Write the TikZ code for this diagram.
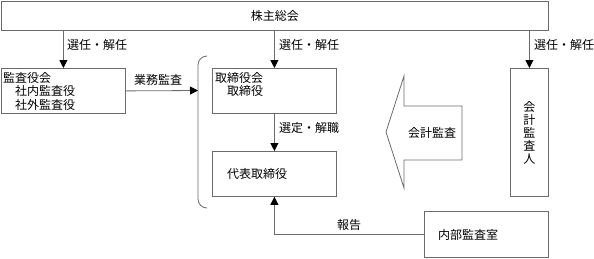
\documentclass[tikz,border=0pt]{standalone}
\usepackage{fontspec}
\setmainfont{Noto Sans CJK JP}
\usetikzlibrary{arrows.meta}
\definecolor{linegray}{gray}{0.42}
\tikzset{
  box/.style={draw=linegray, line width=0.8pt, rectangle, inner sep=0pt, anchor=north west},
  txt/.style={inner sep=0pt, anchor=west, font=\fontsize{12pt}{13pt}\selectfont},
  conn/.style={draw=linegray, line width=0.8pt, -{Triangle[width=8pt,length=8pt,color=black]}},
  plain/.style={draw=linegray, line width=0.8pt}
}
\begin{document}
\begin{tikzpicture}[x=1pt,y=-1pt]
\useasboundingbox (0,0) rectangle (594,258);
% boxes
\node[box, minimum width=547pt, minimum height=29pt, font=\fontsize{12pt}{13pt}\selectfont] (top) at (1,1) {株主総会};
\node[box, minimum width=124pt, minimum height=45pt] (kansa) at (1,68) {};
\node[box, minimum width=124pt, minimum height=45pt] (tori) at (212,68) {};
\node[box, minimum width=124pt, minimum height=45pt] (daihyo) at (212,151) {};
\node[box, minimum width=124pt, minimum height=46pt] (naibu) at (424,211) {};
\node[box, minimum width=38pt, minimum height=128pt] (kaikei) at (510,68) {};
% texts
\node[txt] (t1) at (3,78) {監査役会};
\node[txt] (t2) at (15,91) {社内監査役};
\node[txt] (t3) at (15,105) {社外監査役};
\node[txt] (t4) at (215,78) {取締役会};
\node[txt] (t5) at (227,91) {取締役};
\node[txt] (t6) at (227,174) {代表取締役};
\node[txt] (t7) at (438,235) {内部監査室};
\node[inner sep=0pt, align=center, font=\fontsize{12pt}{13pt}\selectfont] (t8) at (kaikei.center) {会\\計\\監\\査\\人};
% bracket
\draw[plain, rounded corners=9pt] (207,56) -- (198,56) -- (198,208) -- (207,208);
\coordinate (br) at (198,90.5);
% arrows
\draw[conn] (top.south -| kansa.north) -- (kansa.north);
\draw[conn] (top.south -| tori.north) -- (tori.north);
\draw[conn] (top.south -| kaikei.north) -- (kaikei.north);
\draw[conn] (kansa.east) -- (br);
\draw[conn] (tori.south) -- (daihyo.north);
\draw[conn] (naibu.west) -| (daihyo.south);
% labels
\node[txt] (l1) at (67,45) {選任・解任};
\node[txt] (l2) at (279,45) {選任・解任};
\node[txt] (l3) at (534,45) {選任・解任};
\node[txt] (l4) at (134,80) {業務監査};
\node[txt] (l5) at (279,128) {選定・解職};
\node[txt] (l6) at (337,225) {報告};
% big arrow
\draw[plain] (386,132) -- (404,76) -- (404,106) -- (462,106) -- (462,160) -- (404,160) -- (404,188) -- cycle;
\node[txt] (l7) at (408,133) {会計監査};
\end{tikzpicture}
\end{document}
